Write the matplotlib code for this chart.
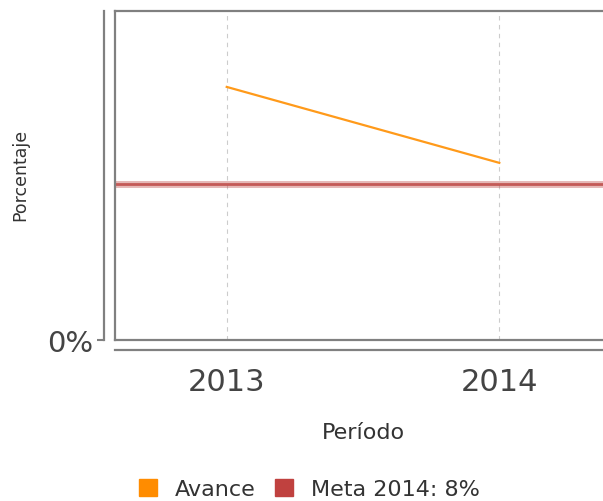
import matplotlib.pyplot as plt
from matplotlib.patches import Patch
from matplotlib.ticker import FuncFormatter

# values
periodos = ["2013", "2014"]
avance = [13.0, 9.1]
meta = 8.0
meta_label = "Meta 2014: 8%"
y_ticks = [0]

fig = plt.figure(figsize=(6.03, 5.02), dpi=100)
pos = [0.1907, 0.3207, 0.8226, 0.6554]
xlim = (-0.41, 1.41)
ylim = (0, 16.9)

# inner frame with data
ax = fig.add_axes(pos)
x = list(range(len(periodos)))
ax.plot(x, avance, color="#ff9a1a", lw=1.6, zorder=3)
ax.axhline(meta, color="#c0504d", lw=5, alpha=0.4, zorder=2)
ax.axhline(meta, color="#c0504d", lw=2, alpha=0.9, zorder=2)
for xi in x:
    ax.axvline(xi, color="#cccccc", lw=0.8, ls=(0, (4, 4)), zorder=1)
ax.set_xlim(*xlim)
ax.set_ylim(*ylim)
for s in ax.spines.values():
    s.set_color("#808080")
    s.set_linewidth(1.6)
ax.set_xticks([])
ax.set_yticks([])

# offset axis lines with tick labels
ax2 = fig.add_axes(pos, facecolor="none")
ax2.set_xlim(*xlim)
ax2.set_ylim(*ylim)
ax2.spines["top"].set_visible(False)
ax2.spines["right"].set_visible(False)
ax2.spines["left"].set_position(("outward", 8))
ax2.spines["bottom"].set_position(("outward", 7.3))
for side in ["left", "bottom"]:
    ax2.spines[side].set_color("#808080")
    ax2.spines[side].set_linewidth(1.6)
ax2.set_xticks(x)
ax2.set_xticklabels(periodos)
ax2.set_yticks(y_ticks)
ax2.yaxis.set_major_formatter(FuncFormatter(lambda v, p: f"{v:.0f}%"))
ax2.tick_params(axis="x", length=0, pad=12, labelsize=22, labelcolor="#444444")
ax2.tick_params(axis="y", length=5, width=1.5, color="#808080", pad=3,
                labelsize=21, labelcolor="#444444")
ax2.set_xlabel("Período", fontsize=16, color="#333333", labelpad=19)
ax2.set_ylabel("Porcentaje", fontsize=12.5, color="#333333")
ax2.yaxis.set_label_coords(-0.172, 0.505)

handles = [Patch(color="#ff8c00", label="Avance"),
           Patch(color="#c0413f", label=meta_label)]
fig.legend(handles=handles, loc="lower center", bbox_to_anchor=(0.513, -0.036),
           ncol=2, frameon=False, fontsize=16, handlelength=0.8, handleheight=0.8,
           handletextpad=0.8, columnspacing=0.9, labelcolor="#333333")

fig.savefig("out.png", dpi=100)
